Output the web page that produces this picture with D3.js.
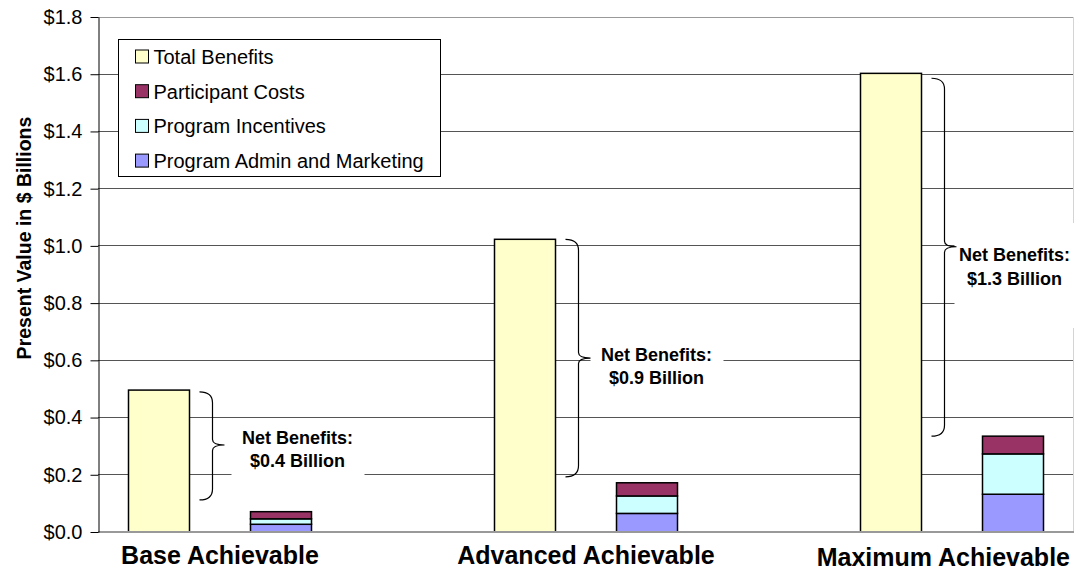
<!DOCTYPE html>
<html>
<head>
<meta charset="utf-8">
<script src="https://cdn.jsdelivr.net/npm/d3@7"></script>
<style>
  html, body { margin: 0; padding: 0; background: #fff; }
  svg { display: block; font-family: Arial, "Liberation Sans", sans-serif; }
</style>
</head>
<body>
<svg id="chart" width="1075" height="569"></svg>
<script>
// ---- data (present value, $ billions) ----
const categories = ["Base Achievable", "Advanced Achievable", "Maximum Achievable"];
const totalBenefits = [0.496, 1.023, 1.603];
const adminMarketing = [0.027, 0.065, 0.132];
const programIncentives = [0.019, 0.061, 0.141];
const participantCosts = [0.025, 0.046, 0.062];

const netBenefitText = ["$0.4 Billion", "$0.9 Billion", "$1.3 Billion"];
// brace extents and tip, in $ billions
const braceTop = [0.490, 1.023, 1.586];
const braceBottom = [0.112, 0.193, 0.335];
const braceTip = [0.304, 0.608, 0.997];
// first-line baseline of each net-benefit note, in $ billions
const noteAt = [0.308, 0.598, 0.947];

const yTicks = [0, 0.2, 0.4, 0.6, 0.8, 1.0, 1.2, 1.4, 1.6, 1.8];

const legendItems = ["Total Benefits", "Participant Costs", "Program Incentives", "Program Admin and Marketing"];
const colors = {
  "Total Benefits": "#FFFFCC",
  "Participant Costs": "#993366",
  "Program Incentives": "#CCFFFF",
  "Program Admin and Marketing": "#9999FF"
};

// ---- layout ----
const W = 1075, H = 569;
const plot = { left: 98, right: 1074, top: 17, bottom: 532 };
// note placement relative to the right edge of each total bar, and white mask extents
const noteLayout = [
  { dx: 108, maskL: -66, maskR: 67, maskT: -22, maskB: 40 },
  { dx: 101, maskL: -66, maskR: 67, maskT: -30, maskB: 45 },
  { dx: 93,  maskL: -60, maskR: 62, maskT: -38, maskB: 67 }
];

const svg = d3.select("#chart");

const y = d3.scaleLinear().domain([0, 1.8]).range([plot.bottom, plot.top]);

// each category uses three slots: total bar, cost stack, spacer (last spacer dropped)
const slots = [];
categories.forEach((c, i) => {
  slots.push(c + "|total");
  slots.push(c + "|costs");
  if (i < categories.length - 1) slots.push(c + "|gap");
});
const x = d3.scaleBand().domain(slots).range([plot.left, plot.right])
  .paddingInner(0.5).paddingOuter(0.25);

// ---- gridlines ----
svg.append("g").selectAll("line")
  .data(yTicks.filter(d => d > 0))
  .join("line")
  .attr("x1", plot.left).attr("x2", plot.right)
  .attr("y1", d => y(d)).attr("y2", d => y(d))
  .attr("stroke", (d, i, a) => i === a.length - 1 ? "#999" : "#555")
  .attr("stroke-width", 1)
  .attr("shape-rendering", "crispEdges");

// faint right border of the plot area
svg.append("line")
  .attr("x1", plot.right - 0.5).attr("x2", plot.right - 0.5)
  .attr("y1", plot.top).attr("y2", plot.bottom)
  .attr("stroke", "#d4d4d4");

// ---- total benefit bars ----
svg.append("g").selectAll("rect")
  .data(categories.map((c, i) => ({ c, v: totalBenefits[i] })))
  .join("rect")
  .attr("x", d => x(d.c + "|total"))
  .attr("width", x.bandwidth())
  .attr("y", d => y(d.v))
  .attr("height", d => y(0) - y(d.v))
  .attr("fill", colors["Total Benefits"])
  .attr("stroke", "#000").attr("stroke-width", 1.5);

// ---- stacked cost bars ----
const costRows = categories.map((c, i) => ({
  c,
  "Program Admin and Marketing": adminMarketing[i],
  "Program Incentives": programIncentives[i],
  "Participant Costs": participantCosts[i]
}));
const stackKeys = ["Program Admin and Marketing", "Program Incentives", "Participant Costs"];
const stacked = d3.stack().keys(stackKeys)(costRows);

svg.append("g").selectAll("g")
  .data(stacked)
  .join("g")
  .attr("fill", s => colors[s.key])
  .selectAll("rect")
  .data(s => s)
  .join("rect")
  .attr("x", d => x(d.data.c + "|costs"))
  .attr("width", x.bandwidth())
  .attr("y", d => y(d[1]))
  .attr("height", d => y(d[0]) - y(d[1]))
  .attr("stroke", "#000").attr("stroke-width", 1.5);

// ---- axes ----
svg.append("line")
  .attr("x1", plot.left).attr("x2", plot.right)
  .attr("y1", plot.bottom).attr("y2", plot.bottom)
  .attr("stroke", "#999").attr("stroke-width", 2);

const yAxis = d3.axisLeft(y)
  .tickValues(yTicks)
  .tickFormat(d => "$" + d.toFixed(1))
  .tickSizeInner(8).tickSizeOuter(0).tickPadding(8);

const gy = svg.append("g")
  .attr("transform", `translate(${plot.left + 0.5},0)`)
  .call(yAxis);
gy.select(".domain").attr("stroke", "#000");
gy.selectAll(".tick line").attr("stroke", "#000");
gy.selectAll(".tick text")
  .attr("font-size", 20)
  .attr("font-family", "Arial, 'Liberation Sans', sans-serif")
  .attr("fill", "#000");

svg.append("text")
  .attr("transform", "translate(31,238) rotate(-90)")
  .attr("text-anchor", "middle")
  .attr("font-size", 19.5)
  .attr("font-weight", "bold")
  .text("Present Value in $ Billions");

// category labels, centred under each bar pair and kept inside the page
svg.append("g").selectAll("text")
  .data(categories)
  .join("text")
  .attr("text-anchor", "middle")
  .attr("font-size", 25)
  .attr("font-weight", "bold")
  .text(d => d)
  .each(function (d, i) {
    const cx = (x(d + "|total") + x(d + "|costs") + x.bandwidth()) / 2;
    const w = this.getComputedTextLength();
    const clamped = Math.min(cx, W - 5 - w / 2);
    d3.select(this)
      .attr("x", clamped)
      .attr("y", i === categories.length - 1 ? 565.5 : 563.5);
  });

// ---- net benefit annotations ----
function bracePath(x0, yT, yB, yM) {
  const xs = x0 + 13, xt = x0 + 25, r = 11;
  return `M${x0},${yT} Q${xs},${yT} ${xs},${yT + r} L${xs},${yM - r / 2} ` +
         `Q${xs},${yM} ${xt},${yM} Q${xs},${yM} ${xs},${yM + r / 2} ` +
         `L${xs},${yB - r} Q${xs},${yB} ${x0},${yB}`;
}

const notes = categories.map((c, i) => {
  const barRight = x(c + "|total") + x.bandwidth();
  return {
    c, i,
    braceX: barRight + 10,
    cx: barRight + noteLayout[i].dx,
    base: y(noteAt[i]),
    layout: noteLayout[i]
  };
});

// white masks behind the note text
svg.append("g").selectAll("rect")
  .data(notes)
  .join("rect")
  .attr("x", d => d.cx + d.layout.maskL)
  .attr("width", d => d.layout.maskR - d.layout.maskL)
  .attr("y", d => d.base + d.layout.maskT)
  .attr("height", d => d.layout.maskB - d.layout.maskT)
  .attr("fill", "#fff");

svg.append("g").selectAll("path")
  .data(notes)
  .join("path")
  .attr("d", d => bracePath(d.braceX, y(braceTop[d.i]), y(braceBottom[d.i]), y(braceTip[d.i])))
  .attr("fill", "none")
  .attr("stroke", "#000")
  .attr("stroke-width", 1.2);

const noteText = svg.append("g").selectAll("text")
  .data(notes)
  .join("text")
  .attr("text-anchor", "middle")
  .attr("font-size", 18)
  .attr("font-weight", "bold");
noteText.append("tspan")
  .attr("x", d => d.cx).attr("y", d => d.base)
  .text("Net Benefits:");
noteText.append("tspan")
  .attr("x", d => d.cx).attr("y", d => d.base + 23.5)
  .text(d => netBenefitText[d.i]);

// ---- legend ----
const legend = svg.append("g").attr("transform", "translate(118.5,39.5)");
legend.append("rect")
  .attr("width", 322).attr("height", 137)
  .attr("fill", "#fff").attr("stroke", "#000").attr("stroke-width", 1);
const rows = legend.selectAll("g")
  .data(legendItems)
  .join("g")
  .attr("transform", (d, i) => `translate(0,${17.5 + i * 34.7})`);
rows.append("rect")
  .attr("x", 17).attr("y", -7).attr("width", 13).attr("height", 13)
  .attr("fill", d => colors[d]).attr("stroke", "#000").attr("stroke-width", 1);
rows.append("text")
  .attr("x", 35).attr("y", 7)
  .attr("font-size", 20)
  .text(d => d);
</script>
</body>
</html>
